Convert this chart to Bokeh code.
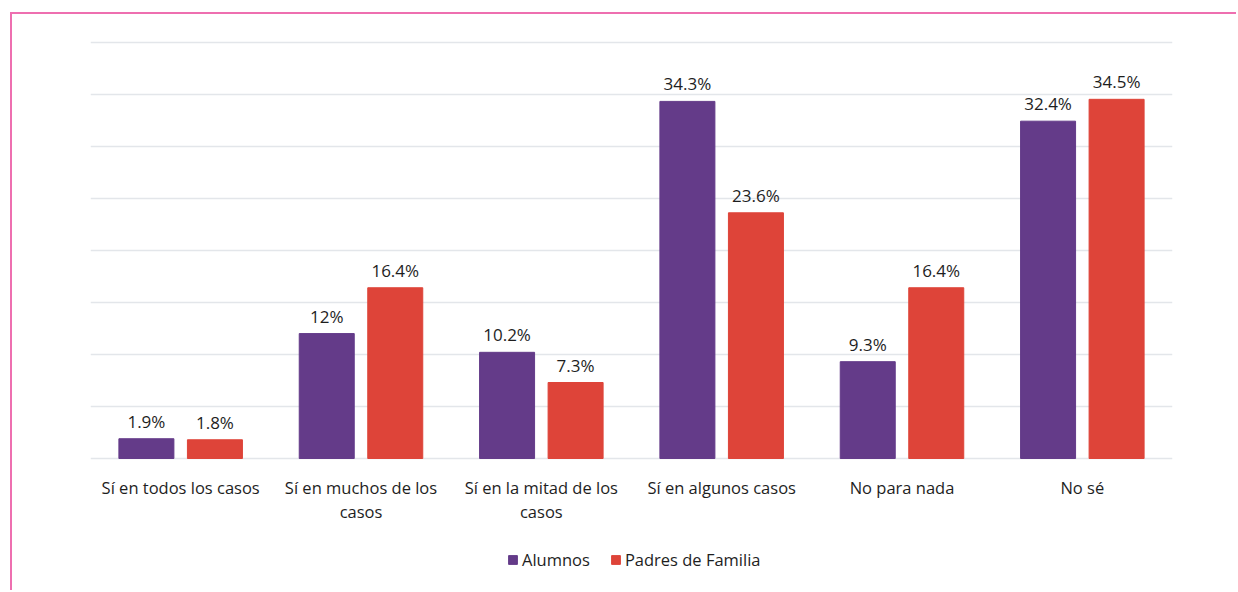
from bokeh.plotting import figure
from bokeh.models import ColumnDataSource, FactorRange, Range1d, Legend, LegendItem, FixedTicker
from bokeh.transform import dodge
from bokeh.embed import file_html
from bokeh.resources import INLINE
from bokeh.core.properties import value

categories = ["Sí en todos los casos", "Sí en muchos de los casos", "Sí en la mitad de los casos",
              "Sí en algunos casos", "No para nada", "No sé"]
category_labels = ["Sí en todos los casos", "Sí en muchos de los\ncasos", "Sí en la mitad de los\ncasos",
                   "Sí en algunos casos", "No para nada", "No sé"]
alumnos = [1.9, 12, 10.2, 34.3, 9.3, 32.4]
padres = [1.8, 16.4, 7.3, 23.6, 16.4, 34.5]
series_names = ["Alumnos", "Padres de Familia"]
y_ticks = [0, 5, 10, 15, 20, 25, 30, 35, 40]

PURPLE = "#643B89"
RED = "#DE4439"
PINK = "#EE6FB0"
FONT = "Open Sans"
TXT = "#1E1E1E"

src = ColumnDataSource(dict(
    cat=categories,
    cat_lbl=category_labels,
    base=[0] * len(categories),
    alumnos=alumnos,
    padres=padres,
    alumnos_lbl=[f"{v:g}%" for v in alumnos],
    padres_lbl=[f"{v:g}%" for v in padres],
))

p = figure(x_range=FactorRange(*categories, range_padding=0),
           y_range=Range1d(-12.87, 40.15),
           width=1226, height=578, output_backend="svg", toolbar_location=None,
           min_border_left=78, min_border_right=66, min_border_top=26, min_border_bottom=0)
p.styles = {"border-top": f"2px solid {PINK}", "border-left": f"2px solid {PINK}",
            "margin-left": "10px", "margin-top": "12px"}
p.outline_line_color = None
p.background_fill_color = "white"
p.border_fill_color = "white"

r1 = p.vbar(x=dodge("cat", -0.19, range=p.x_range), top="alumnos", width=0.305, source=src,
            fill_color=PURPLE, line_color=PURPLE)
r2 = p.vbar(x=dodge("cat", 0.19, range=p.x_range), top="padres", width=0.305, source=src,
            fill_color=RED, line_color=RED)

for off, col in [(-0.19, "alumnos"), (0.19, "padres")]:
    p.text(x=dodge("cat", off, range=p.x_range), y=col, text=col + "_lbl", source=src,
           text_align="center", text_baseline="bottom", y_offset=-6,
           text_font=value(FONT), text_font_size="17px", text_color=TXT)

p.text(x="cat", y="base", text="cat_lbl", source=src, text_align="center", text_baseline="top",
       y_offset=17, text_font=value(FONT), text_font_size="16.5px", text_color=TXT,
       text_line_height=1.05)

p.xaxis.visible = False
p.yaxis.visible = False
p.xgrid.grid_line_color = None
p.ygrid.ticker = FixedTicker(ticks=y_ticks)
p.ygrid.grid_line_color = "#E3E6EA"
p.ygrid.grid_line_width = 1.6

legend = Legend(items=[LegendItem(label=series_names[0], renderers=[r1]),
                       LegendItem(label=series_names[1], renderers=[r2])],
                location=(417, 21), orientation="horizontal",
                padding=0, margin=0, spacing=20, glyph_width=11, glyph_height=11,
                label_standoff=4, label_height=20,
                label_text_font=FONT, label_text_font_size="16.5px", label_text_color=TXT,
                border_line_color=None, background_fill_alpha=0)
p.add_layout(legend, "center")

open("out.html", "w").write(file_html(p, INLINE))
